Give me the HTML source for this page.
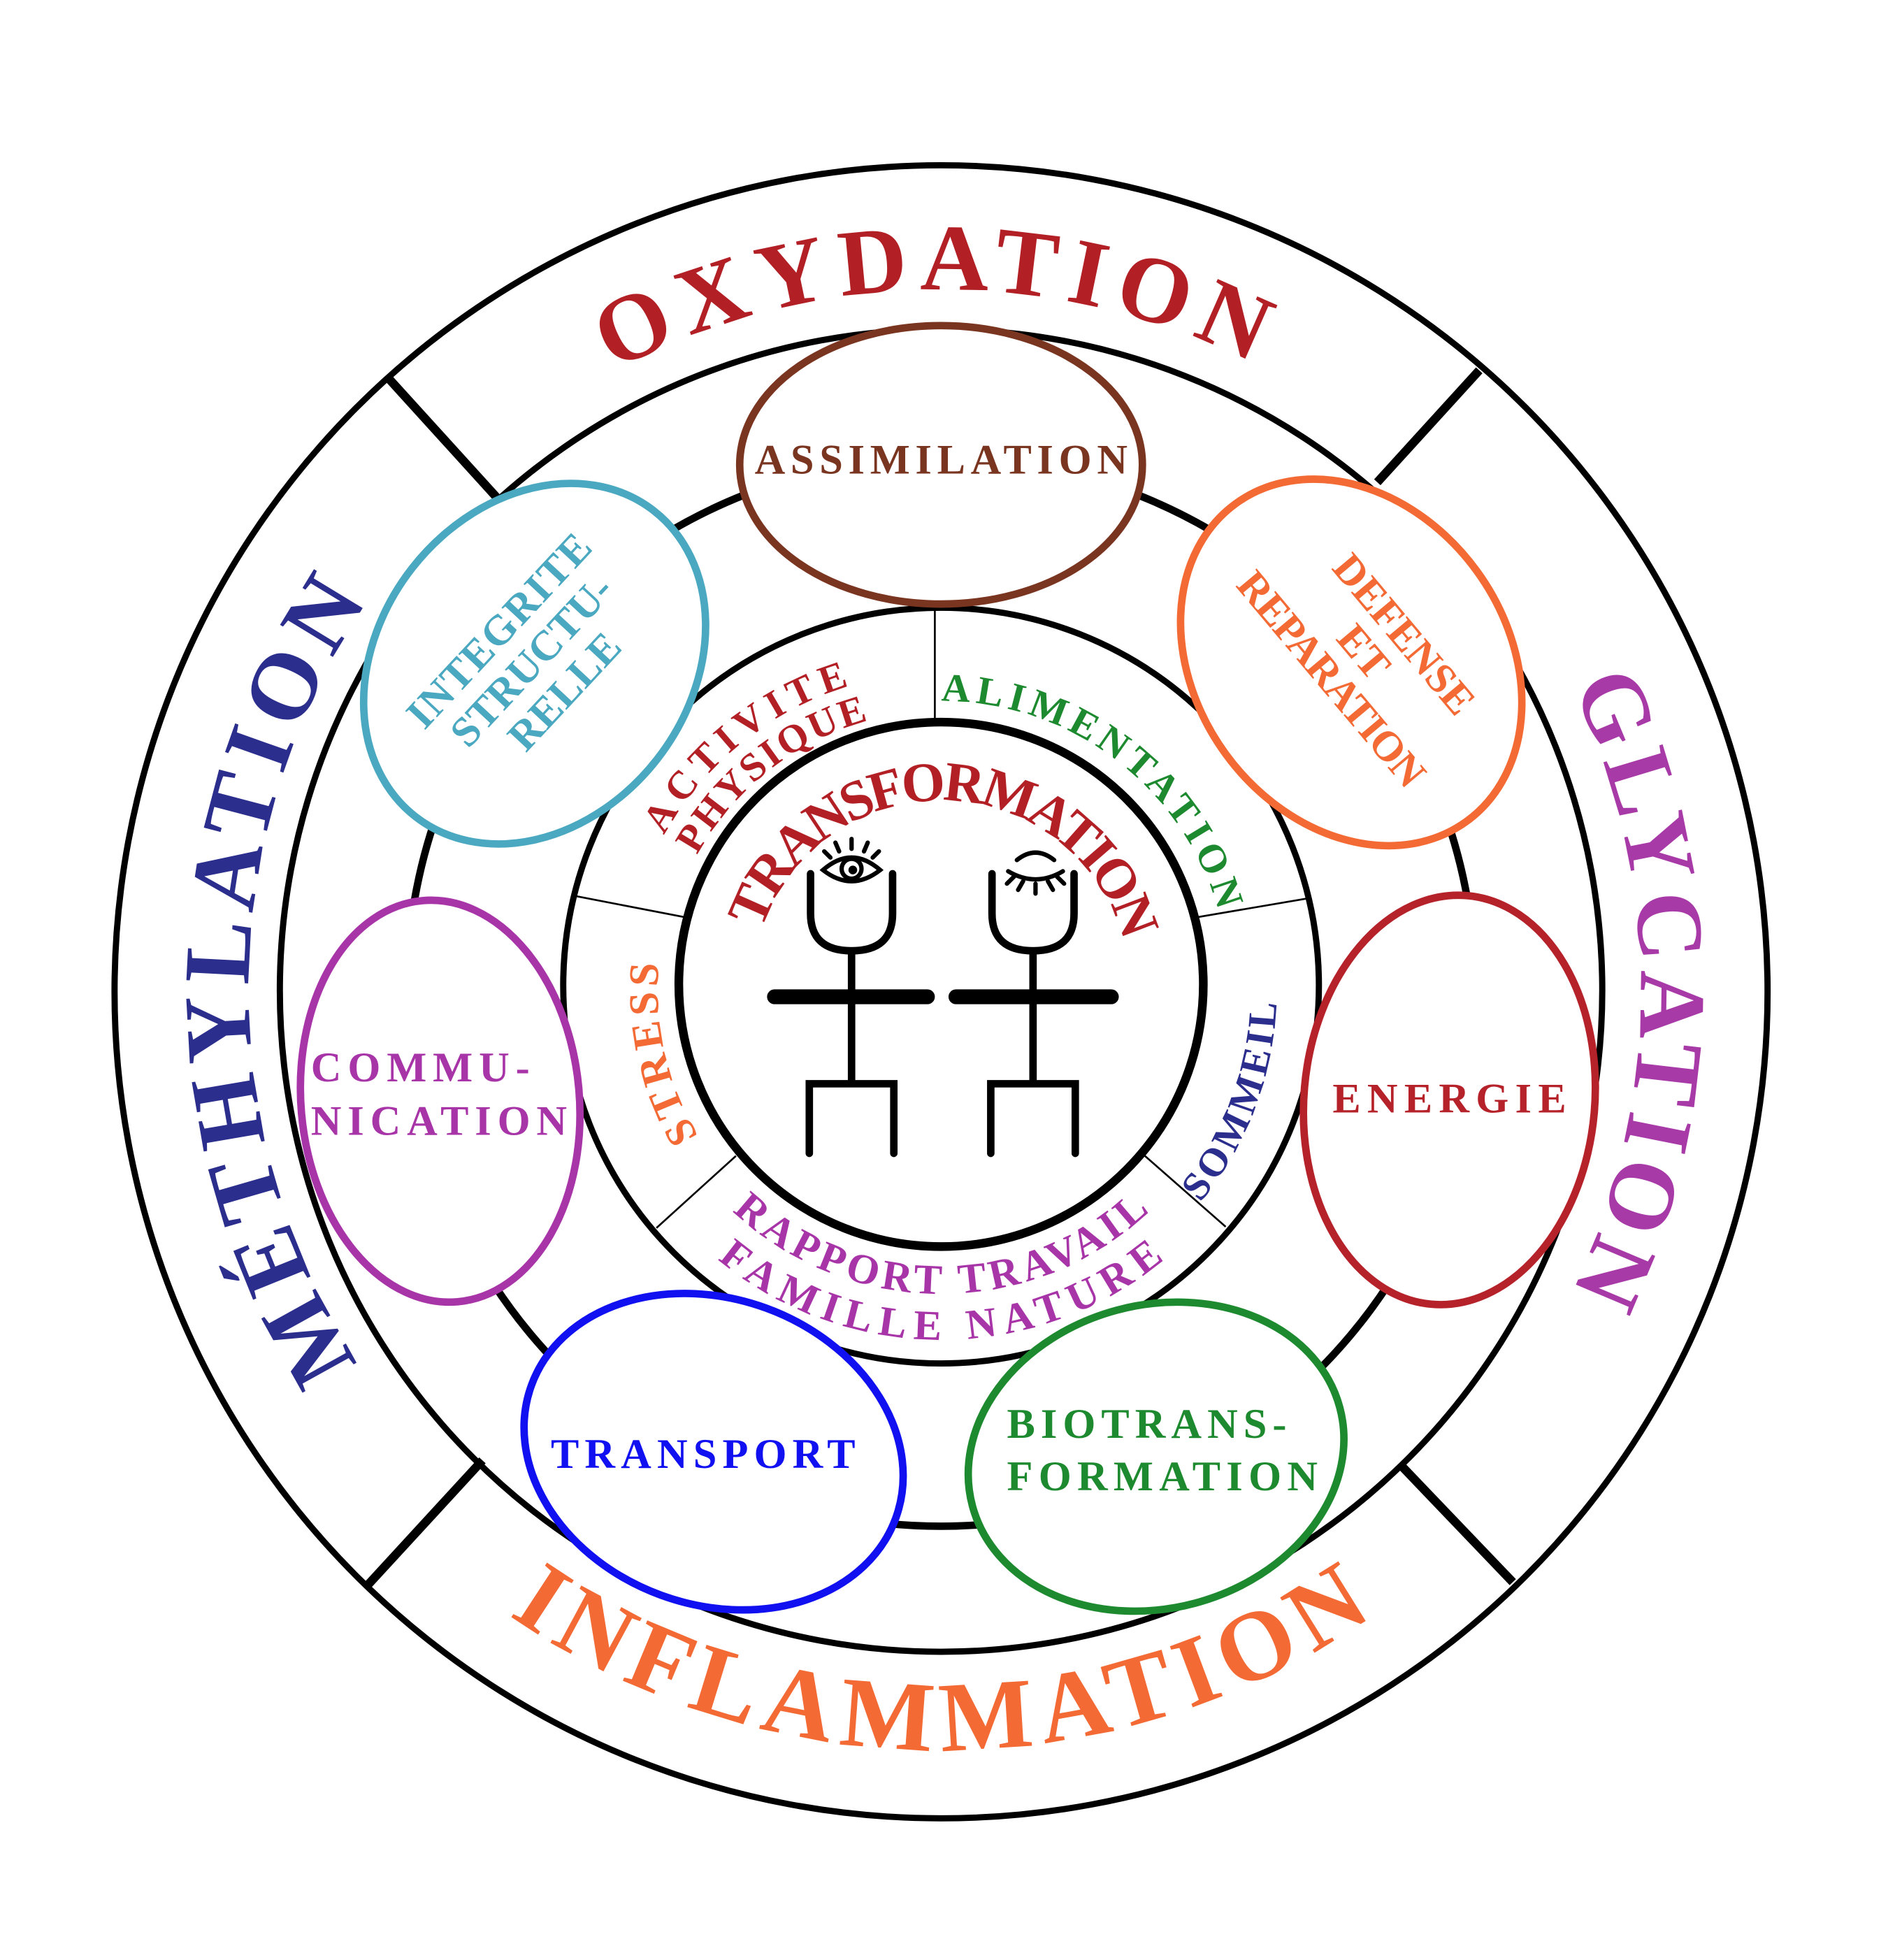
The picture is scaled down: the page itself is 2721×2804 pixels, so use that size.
<!DOCTYPE html>
<html><head><meta charset="utf-8"><style>
html,body{margin:0;padding:0;background:#fff}
svg{display:block}
text{font-family:"Liberation Serif",serif;font-weight:bold}
</style></head><body>
<svg width="2721" height="2804" viewBox="0 0 1530 1577" xmlns="http://www.w3.org/2000/svg">
<defs>
<path id="cw563" d="M757,1359 A563,563 0 1 1 757,233 A563,563 0 1 1 757,1359"/>
<path id="cw557" d="M757,1353 A557,557 0 1 1 757,239 A557,557 0 1 1 757,1353"/>
<path id="ccw612" d="M757,184 A612,612 0 1 0 757,1408 A612,612 0 1 0 757,184"/>
<path id="cw152" d="M757,948 A152,152 0 1 1 757,644 A152,152 0 1 1 757,948"/>
<path id="cw232" d="M757,1028 A232,232 0 1 1 757,564 A232,232 0 1 1 757,1028"/>
<path id="cw255" d="M757,1051 A255,255 0 1 1 757,541 A255,255 0 1 1 757,1051"/>
<path id="cw224" d="M757,1020 A224,224 0 1 1 757,572 A224,224 0 1 1 757,1020"/>
<path id="ccw270" d="M757,526 A270,270 0 1 0 757,1066 A270,270 0 1 0 757,526"/>
<path id="cw228" d="M757,1024 A228,228 0 1 1 757,568 A228,228 0 1 1 757,1024"/>
<path id="ccw245" d="M757,551 A245,245 0 1 0 757,1041 A245,245 0 1 0 757,551"/>
<path id="ccw282" d="M757,514 A282,282 0 1 0 757,1078 A282,282 0 1 0 757,514"/>
</defs>
<rect width="1530" height="1577" fill="#fff"/>
<g fill="none" stroke="#000">
<circle cx="757" cy="798" r="665" stroke-width="5"/>
<circle cx="757" cy="797" r="532" stroke-width="5"/>
<circle cx="757" cy="798" r="430" stroke-width="6"/>
<circle cx="757" cy="793" r="304" stroke-width="5"/>
<circle cx="757" cy="792" r="211" stroke-width="7"/>
<g stroke-width="7">
<line x1="313" y1="305" x2="402" y2="403"/>
<line x1="1190" y1="298" x2="1108" y2="388"/>
<line x1="388" y1="1175" x2="296" y2="1275"/>
<line x1="1128" y1="1180" x2="1217" y2="1273"/>
</g>
<g stroke-width="1.5">
<line x1="752" y1="490" x2="752" y2="580"/>
<line x1="1051" y1="723" x2="963" y2="738"/>
<line x1="986" y1="987" x2="921" y2="930"/>
<line x1="528" y1="988" x2="592" y2="930"/>
<line x1="463" y1="721" x2="551" y2="738"/>
</g>
</g>
<g fill="#fff" stroke-width="6">
<ellipse cx="757" cy="374" rx="162" ry="112" stroke="#7a3520"/>
<ellipse cx="1087" cy="533" rx="125" ry="158" stroke="#f36a35" transform="rotate(-36 1087 533)"/>
<ellipse cx="1166" cy="885" rx="117" ry="165" stroke="#b5222a" transform="rotate(5 1166 885)"/>
<ellipse cx="930" cy="1172" rx="153" ry="122" stroke="#1e8a30" transform="rotate(-15 930 1172)"/>
<ellipse cx="574" cy="1168" rx="156" ry="123" stroke="#1010f0" transform="rotate(20 574 1168)"/>
<ellipse cx="354" cy="886" rx="112" ry="162" stroke="#a835a8" transform="rotate(-5 354 886)"/>
<ellipse cx="430" cy="534" rx="125" ry="156" stroke="#4aa8c0" transform="rotate(38 430 534)"/>
</g>
<text font-size="76" fill="#b22025"><textPath href="#cw563" startOffset="49.8%" text-anchor="middle" textLength="535" lengthAdjust="spacing">OXYDATION</textPath></text>
<text font-size="76" fill="#a83aa8"><textPath href="#cw563" startOffset="75%" text-anchor="middle" textLength="505" lengthAdjust="spacing">GLYCATION</textPath></text>
<text font-size="76" fill="#2b2e8c"><textPath href="#cw557" startOffset="25.2%" text-anchor="middle" textLength="650" lengthAdjust="spacing">MÉTHYLATION</textPath></text>
<text font-size="80" fill="#f36a35"><textPath href="#ccw612" startOffset="50%" text-anchor="middle" textLength="740" lengthAdjust="spacing">INFLAMMATION</textPath></text>
<text font-size="45" fill="#b22025"><textPath href="#cw152" startOffset="50.5%" text-anchor="middle" textLength="390" lengthAdjust="spacing">TRANSFORMATION</textPath></text>
<text font-size="32" fill="#1e8a30"><textPath href="#cw232" startOffset="60.3%" text-anchor="middle" textLength="300" lengthAdjust="spacing">ALIMENTATION</textPath></text>
<text font-size="32" fill="#b22025"><textPath href="#cw255" startOffset="39.2%" text-anchor="middle" textLength="196" lengthAdjust="spacing">ACTIVITE</textPath></text>
<text font-size="32" fill="#b22025"><textPath href="#cw224" startOffset="39.4%" text-anchor="middle" textLength="180" lengthAdjust="spacing">PHYSIQUE</textPath></text>
<text font-size="32" fill="#2b2e8c"><textPath href="#ccw270" startOffset="69.2%" text-anchor="middle" textLength="175" lengthAdjust="spacing">SOMMEIL</textPath></text>
<text font-size="34" fill="#f36a35"><textPath href="#cw228" startOffset="21.4%" text-anchor="middle" textLength="145" lengthAdjust="spacing">STRESS</textPath></text>
<text font-size="34" fill="#a835a8"><textPath href="#ccw245" startOffset="50%" text-anchor="middle" textLength="370" lengthAdjust="spacing">RAPPORT TRAVAIL</textPath></text>
<text font-size="34" fill="#a835a8"><textPath href="#ccw282" startOffset="50%" text-anchor="middle" textLength="390" lengthAdjust="spacing">FAMILLE NATURE</textPath></text>
<text x="757" y="381" font-size="34" fill="#7a3520" text-anchor="middle" textLength="300" lengthAdjust="spacing">ASSIMILATION</text>
<g transform="translate(1087 533) rotate(50)" fill="#f36a35" font-size="34" text-anchor="middle">
<text x="10" y="-36">DEFENSE</text><text x="0" y="-2">ET</text><text x="0" y="32" textLength="215" lengthAdjust="spacing">REPARATION</text>
</g>
<g transform="translate(430 534) rotate(-47)" fill="#4aa8c0" font-size="34" text-anchor="middle">
<text x="0" y="-28" textLength="200" lengthAdjust="spacing">INTEGRITE</text><text x="0" y="8">STRUCTU-</text><text x="0" y="44">RELLE</text>
</g>
<text x="1166" y="895" font-size="34" fill="#b5222a" text-anchor="middle" textLength="188" lengthAdjust="spacing">ENERGIE</text>
<text x="250" y="870" font-size="34" fill="#a835a8" textLength="176" lengthAdjust="spacing">COMMU-</text>
<text x="250" y="913" font-size="34" fill="#a835a8" textLength="206" lengthAdjust="spacing">NICATION</text>
<text x="443" y="1181" font-size="34" fill="#1010f0" textLength="245" lengthAdjust="spacing">TRANSPORT</text>
<text x="810" y="1157" font-size="34" fill="#1e8a30" textLength="225" lengthAdjust="spacing">BIOTRANS-</text>
<text x="810" y="1199" font-size="34" fill="#1e8a30" textLength="250" lengthAdjust="spacing">FORMATION</text>
<g fill="none" stroke="#000" stroke-linecap="round">
<g stroke-width="6">
<path d="M652,703 L652,735 Q652,765 685,765 Q718,765 718,735 L718,703"/>
<line x1="685" y1="765" x2="685" y2="870"/>
<path d="M651,928 L651,872 L719,872 L719,928"/>
<path d="M798,703 L798,735 Q798,765 831,765 Q864,765 864,735 L864,703"/>
<line x1="831" y1="765" x2="831" y2="870"/>
<path d="M797,928 L797,872 L865,872 L865,928"/>
</g>
<g stroke-width="12">
<line x1="623" y1="802" x2="746" y2="802"/>
<line x1="769" y1="802" x2="894" y2="802"/>
</g>
<g stroke-width="3.5">
<path d="M662,700 Q685,680 708,700 Q685,718 662,700 Z"/>
<circle cx="685" cy="699" r="8"/>
<path d="M668,690 l-5,-5 M675,685 l-3,-7 M685,683 l0,-8 M695,685 l3,-7 M702,690 l5,-5"/>
<path d="M818,692 Q833,680 848,692"/>
<path d="M811,701 Q833,714 855,701 M816,705 l-6,6 M823,709 l-4,7 M833,711 l0,8 M843,709 l4,7 M850,705 l6,6"/>
</g>
</g>
<circle cx="686" cy="700" r="3.5" fill="#000"/>
</svg>
</body></html>
